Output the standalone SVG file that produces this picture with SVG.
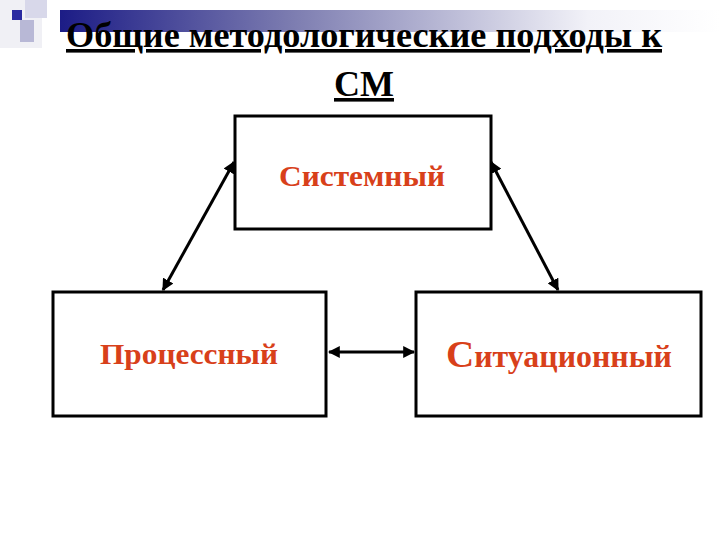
<svg xmlns="http://www.w3.org/2000/svg" width="720" height="540" viewBox="0 0 720 540">
<defs>
<linearGradient id="bar" x1="0" y1="0" x2="1" y2="0">
<stop offset="0" stop-color="#1c1c86"/>
<stop offset="0.35" stop-color="#7c7cb0"/>
<stop offset="0.8" stop-color="#f2f2f8"/>
<stop offset="1" stop-color="#ffffff"/>
</linearGradient>
<marker id="ah" viewBox="0 0 10 10" refX="9" refY="5" markerWidth="4" markerHeight="4" orient="auto-start-reverse">
<path d="M0,0 L10,5 L0,10 z" fill="#000"/>
</marker>
<style>
.box{fill:#fff;stroke:#000;stroke-width:3}
.lbl{font-family:"Liberation Serif","Times New Roman",serif;font-weight:bold;fill:#d8401a;text-anchor:middle}
.ttl{font-family:"Liberation Serif","Times New Roman",serif;font-weight:bold;font-size:36px;fill:#000;text-anchor:middle;text-decoration:underline}
.con{stroke:#000;stroke-width:3;fill:none;marker-start:url(#ah);marker-end:url(#ah)}
</style>
</defs>
<rect width="720" height="540" fill="#fff"/>
<g id="decor">
<rect x="60" y="10" width="660" height="22" fill="url(#bar)"/>
<rect x="0" y="0" width="42" height="48" fill="#f0f0f5"/>
<rect x="25" y="0" width="22" height="18" fill="#d8d8ea"/>
<rect x="20" y="20" width="14" height="22" fill="#b8b8d6"/>
<rect x="12" y="10" width="10" height="10" fill="#2a2aa0"/>
</g>
<g id="title">
<text class="ttl" x="364" y="47" textLength="596" lengthAdjust="spacingAndGlyphs">Общие методологические подходы к</text>
<text class="ttl" x="364" y="96">СМ</text>
</g>
<g id="connectors">
<line class="con" x1="163" y1="290" x2="234" y2="162"/>
<line class="con" x1="491" y1="162" x2="558" y2="290"/>
<line class="con" x1="329" y1="352" x2="414" y2="352"/>
</g>
<g id="node-systemic">
<rect class="box" x="235" y="116" width="256" height="113"/>
<text class="lbl" x="362" y="186" font-size="29" textLength="166" lengthAdjust="spacingAndGlyphs">Системный</text>
</g>
<g id="node-process">
<rect class="box" x="53" y="292" width="273" height="124"/>
<text class="lbl" x="189" y="364" font-size="29" textLength="178" lengthAdjust="spacingAndGlyphs">Процессный</text>
</g>
<g id="node-situational">
<rect class="box" x="416" y="292" width="285" height="124"/>
<text class="lbl" x="559" y="367" font-size="31" textLength="226" lengthAdjust="spacingAndGlyphs"><tspan font-size="38">С</tspan>итуационный</text>
</g>
</svg>
